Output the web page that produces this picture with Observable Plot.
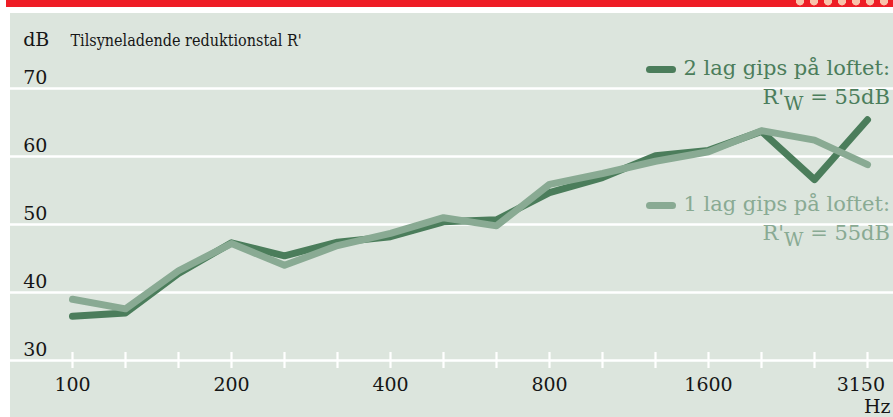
<!DOCTYPE html>
<html>
<head>
<meta charset="utf-8">
<script src="https://cdn.jsdelivr.net/npm/d3@7"></script>
<script src="https://cdn.jsdelivr.net/npm/@observablehq/plot@0.6"></script>
<style>
  html, body { margin: 0; padding: 0; background: #ffffff; }
  #wrap { position: relative; width: 893px; height: 417px; overflow: hidden; }
  #banner { position: absolute; left: 6px; top: 0; width: 887px; height: 7px; background: #ee1d25; overflow: hidden; }
  #dots { position: absolute; right: 0; top: -6px; width: 100px; height: 13px;
          background: radial-gradient(ellipse 6px 7px at 50% 50%, #f8c2aa 0 4px, transparent 4.5px) 0 0 / 14px 13px repeat-x; }
  #panel { position: absolute; left: 10px; top: 13px; right: 0; bottom: 0; background: #dce5dd; }
  #chart { position: absolute; left: 0; top: 0; }
  .legend { position: absolute; right: 3px; font-family: "DejaVu Serif"; font-size: 21px; line-height: 29px; text-align: right; white-space: nowrap; }
  .sw { display: inline-block; width: 30px; height: 7px; border-radius: 4px; margin-right: 7px; vertical-align: 2px; }
  .sub { position: relative; top: 6px; font-size: 0.9em; }
</style>
</head>
<body>
<div id="wrap">
  <div id="banner"><div id="dots"></div></div>
  <div id="panel"></div>
  <div id="chart"></div>
  <div class="legend" id="leg2" style="top:54px;"></div>
  <div class="legend" id="leg1" style="top:190px;"></div>
</div>
<script>
// Data
const freqs = ["100","125","160","200","250","315","400","500","630","800","1000","1250","1600","2000","2500","3150"];
const twoLayers = [36.5, 37.0, 42.8, 47.3, 45.4, 47.4, 48.2, 50.4, 50.7, 54.7, 56.9, 60.1, 60.9, 63.7, 56.6, 65.4];
const oneLayer  = [39.0, 37.6, 43.2, 47.2, 44.0, 46.9, 48.7, 51.0, 49.8, 55.9, 57.5, 59.3, 60.7, 63.8, 62.4, 58.8];
const yTicks = [30, 40, 50, 60, 70];
const xLabels = ["100", "200", "400", "800", "1600"];
const xLastLabel = ["3150"];
const seriesNames = ["2 lag gips på loftet:", "1 lag gips på loftet:"];
const seriesRw = [55, 55];

const darkColor = "#4b7d5b";
const lightColor = "#89aa93";
const textColor = "#161616";

const dataTwo = freqs.map((f, i) => ({f, v: twoLayers[i]}));
const dataOne = freqs.map((f, i) => ({f, v: oneLayer[i]}));

const chart = Plot.plot({
  width: 893,
  height: 417,
  marginLeft: 10,
  marginRight: 0,
  marginTop: 88,
  marginBottom: 57,
  x: {type: "point", domain: freqs, padding: 0, insetLeft: 56, insetRight: 20.3, axis: null},
  y: {domain: [30, 70], axis: null},
  style: {background: "transparent", fontFamily: "DejaVu Serif", overflow: "hidden"},
  marks: [
    Plot.ruleY(yTicks, {stroke: "white", strokeWidth: 2.5}),
    Plot.axisX({tickSize: 16, dy: -8, tickFormat: () => "", label: null, stroke: "white", strokeWidth: 2.2, strokeOpacity: 1}),
    Plot.line(dataTwo, {x: "f", y: "v", stroke: darkColor, strokeWidth: 7, strokeLinecap: "round"}),
    Plot.line(dataOne, {x: "f", y: "v", stroke: lightColor, strokeWidth: 7, strokeLinecap: "round"}),
    Plot.text(yTicks, {y: d => d, text: d => String(d), frameAnchor: "left", textAnchor: "start", lineAnchor: "bottom", dx: 12.7, dy: -5, fontSize: 19, fill: textColor}),
    Plot.text(xLabels, {x: d => d, text: d => d, frameAnchor: "bottom", lineAnchor: "bottom", dy: 30, fontSize: 19, fill: textColor}),
    Plot.text(xLastLabel, {x: d => d, text: d => d, frameAnchor: "bottom", textAnchor: "end", lineAnchor: "bottom", dx: 17.5, dy: 30, fontSize: 19, fill: textColor}),
    Plot.text(["Hz"], {text: d => d, frameAnchor: "bottom-right", textAnchor: "end", lineAnchor: "bottom", dx: -3, dy: 52, fontSize: 19, fill: textColor}),
    Plot.text(["dB"], {text: d => d, frameAnchor: "top-left", textAnchor: "start", lineAnchor: "bottom", dx: 12.7, dy: -43, fontSize: 19, fill: textColor}),
    Plot.text(["Tilsyneladende reduktionstal R'"], {text: d => d, frameAnchor: "top-left", textAnchor: "start", lineAnchor: "bottom", dx: 60, dy: -43, fontSize: 16, fontFamily: "'DejaVu Serif Condensed', 'DejaVu Serif'", fontStretch: "condensed", fill: textColor})
  ]
});
document.getElementById("chart").appendChild(chart);

function legendHtml(name, rw, color) {
  return `<div style="color:${color}"><span class="sw" style="background:${color}"></span>${name}</div>` +
         `<div style="color:${color}">R'<span class="sub">W</span> = ${rw}dB</div>`;
}
document.getElementById("leg2").innerHTML = legendHtml(seriesNames[0], seriesRw[0], darkColor);
document.getElementById("leg1").innerHTML = legendHtml(seriesNames[1], seriesRw[1], lightColor);
</script>
</body>
</html>
